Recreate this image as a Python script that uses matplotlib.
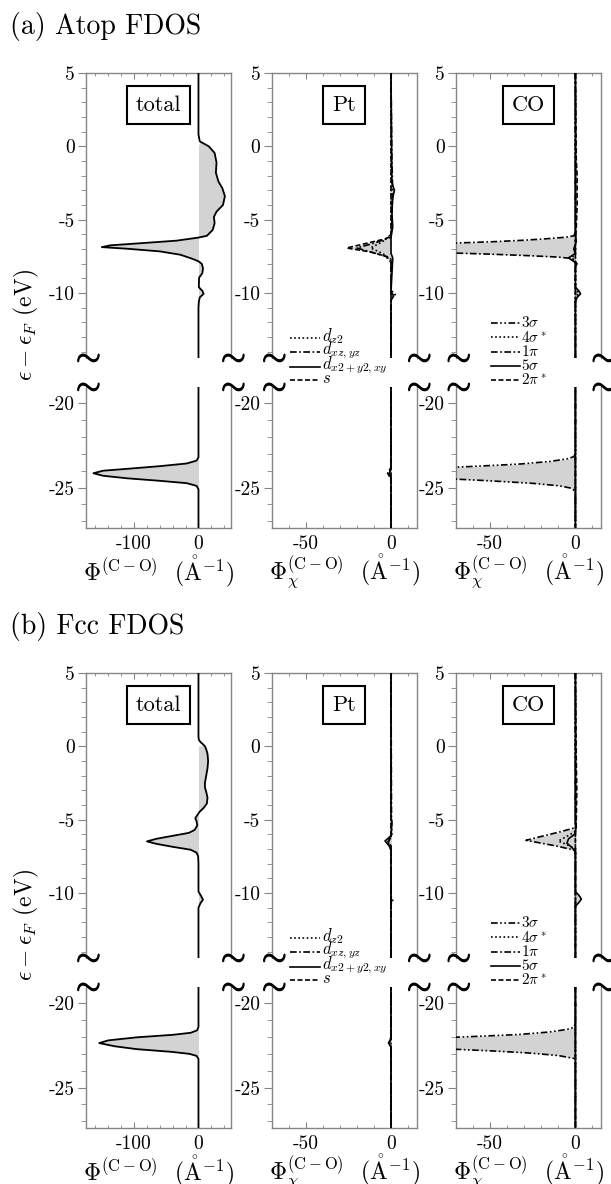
import numpy as np
import matplotlib
matplotlib.use("Agg")
import matplotlib.pyplot as plt
import matplotlib.patheffects as pe
from matplotlib.lines import Line2D
from matplotlib.ticker import MultipleLocator

plt.rcParams["font.family"] = ["cmr10", "DejaVu Serif"]
plt.rcParams["mathtext.fontset"] = "cm"
plt.rcParams["axes.unicode_minus"] = False

# ---------------- data: energy (eV) vs FDOS (1/Angstrom) ----------------
# (a) atop, total
atop_total_E = [5, 0.8, 0.34, 0.0, -0.45, -1.1, -1.8, -2.4, -2.85, -3.4, -4.0, -4.45, -4.8,
                -5.25, -5.7, -6.1, -6.22, -6.43, -6.59, -6.75, -6.87, -6.98, -7.16, -7.39,
                -7.69, -7.84, -8.0, -8.3, -8.65, -8.95, -9.6, -9.85, -10.05, -10.3, -10.6,
                -11.0, -23.2, -23.4, -23.57, -23.73, -23.89, -24.0, -24.15, -24.3, -24.45,
                -24.6, -24.74, -24.9, -25.1, -27.4]
atop_total = [0, 0, 2, 16, 25, 28, 27, 31, 37, 41, 38, 28, 24,
              25, 22, 13, 0, -34, -85, -137, -150, -111, -60, -28,
              -8, 0, 5, 7, 6, 1, 0.5, 6, 8, 2, 0.5,
              0, 0, -3, -18, -60, -111, -148, -163, -148, -111,
              -60, -18, -3, 0, 0]

# (a) atop, Pt projections
atop_dz2_E = [5, -6.0, -6.5, -6.93, -7.3, -7.7, -9.8, -10.1, -10.4, -23.8, -24.1, -24.4, -27.4]
atop_dz2 = [0, 0, -5, -12, -5, 0, 0, 2.5, 0, 0, -1, 0, 0]
atop_dxz_E = [5, -1.0, -3.0, -5.0, -6.2, -6.6, -6.93, -7.2, -7.5, -7.9, -27.4]
atop_dxz = [0, 0.5, 1, 0.5, 0, -10, -20, -12, -3, 0, 0]
atop_dx2_E = [5, -2.5, -3.0, -3.5, -4.5, -5.5, -6.2, -7.3, -7.6, -9.9, -10.2, -10.5,
              -23.9, -24.15, -24.4, -27.4]
atop_dx2 = [0, 0.5, 2, 1, 0.5, 1, 0, 0, 1, 0, 1.5, 0, 0, -1, 0, 0]
atop_s_E = [5, -6.1, -6.3, -6.6, -6.93, -7.2, -7.5, -7.8, -23.8, -24.15, -24.5, -27.4]
atop_s = [0, 0, -3, -14, -26, -12, -3, 0, 0, -2, 0, 0]

# (a) atop, CO orbitals
atop_3s_E = [5, -23.0, -23.17, -23.3, -23.45, -23.6, -23.72, -23.8, -23.95, -24.15, -24.35,
             -24.49, -24.6, -24.75, -24.9, -25.05, -25.25, -27.4]
atop_3s = [0, 0, -1, -5, -15, -32, -55, -72, -150, -300, -150, -72, -50, -25, -9, -2, 0, 0]
atop_4s_E = [5, -7.3, -7.6, -7.9, -9.7, -10.0, -10.3, -27.4]
atop_4s = [0, 0, -2, 0, 0, 2, 0, 0]
atop_1p_E = [5, -5.9, -6.1, -6.2, -6.3, -6.4, -6.5, -6.6, -6.75, -6.93, -7.1, -7.27, -7.35,
             -7.45, -7.55, -7.65, -7.8, -27.4]
atop_1p = [0, 0, -1, -6, -17, -30, -48, -72, -150, -300, -150, -72, -50, -28, -10, -2, 0, 0]
atop_5s_E = [5, -6.0, -6.5, -7.0, -7.3, -7.6, -7.85, -8.0, -8.2, -9.6, -9.85, -10.05, -10.3,
             -10.6, -27.4]
atop_5s = [0, 0, 0.5, -1, 0, -4, -1, 1, 0, 0, 2, 3, 1, 0, 0]
atop_2ps_E = [5, -1.0, -2.0, -4.0, -5.5, -6.5, -27.4]
atop_2ps = [0, 0.5, 1, 1, 0.5, 0, 0]

# (b) fcc, total
fcc_total_E = [5, 0.7, 0.45, 0.3, 0.1, 0.0, -0.2, -0.5, -1.0, -1.5, -2.0, -2.5, -2.8, -3.1,
               -3.5, -3.9, -4.2, -4.45, -4.7, -4.9, -5.1, -5.4, -5.7, -5.9, -6.1, -6.3,
               -6.48, -6.65, -6.85, -7.05, -7.25, -7.5, -8.0, -9.9, -10.2, -10.45, -10.7,
               -11.0, -21.4, -21.6, -21.75, -21.87, -22.02, -22.2, -22.36, -22.55, -22.72,
               -22.88, -23.0, -23.12, -23.3, -27.4]
fcc_total = [0, 0, 0.5, 3, 8, 10, 12, 14, 15, 14, 12, 10, 10, 12,
             14, 13, 8, 2, -2, -5, -3, -2, -6, -15, -40, -65,
             -80, -65, -40, -12, -3, -0.5, 0, 0, 4, 7, 3,
             0, 0, -2, -12, -40, -96, -140, -154, -130, -96,
             -42, -14, -3, 0, 0]

# (b) fcc, Pt projections
fcc_dz2_E = [5, -6.2, -6.5, -6.8, -10.2, -10.5, -10.8, -22.0, -22.3, -22.6, -27.4]
fcc_dz2 = [0, 0, -2, 0, 0, 1, 0, 0, -1, 0, 0]
fcc_dxz_E = [5, -5.0, -6.0, -6.4, -6.7, -7.0, -27.4]
fcc_dxz = [0, 0.3, 0.5, -2, -1, 0, 0]
fcc_dx2_E = [5, -4.8, -5.2, -6.1, -6.45, -6.8, -7.1, -22.1, -22.35, -22.6, -27.4]
fcc_dx2 = [0, 0, 0.5, 0, -3.5, -1, 0, 0, -1.5, 0, 0]
fcc_s_E = [5, -6.2, -6.5, -6.8, -22.1, -22.35, -22.6, -27.4]
fcc_s = [0, 0, -1.5, 0, 0, -1, 0, 0]

# (b) fcc, CO orbitals
fcc_3s_E = [5, -21.2, -21.43, -21.55, -21.7, -21.85, -21.95, -22.02, -22.15, -22.37, -22.55,
            -22.72, -22.82, -22.95, -23.1, -23.27, -23.45, -27.4]
fcc_3s = [0, 0, -1, -5, -15, -33, -55, -72, -150, -300, -150, -72, -50, -27, -10, -1, 0, 0]
fcc_4s_E = [5, -5.8, -6.2, -6.45, -6.7, -7.0, -27.4]
fcc_4s = [0, 0, -6, -10, -5, 0, 0]
fcc_1p_E = [5, -5.45, -5.57, -5.8, -6.0, -6.2, -6.41, -6.6, -6.8, -7.05, -7.15, -27.4]
fcc_1p = [0, 0, -1, -8, -15, -22, -29, -20, -11, -1.5, 0, 0]
fcc_5s_E = [5, -5.0, -5.5, -6.0, -6.3, -6.6, -6.9, -7.2, -9.9, -10.15, -10.4, -10.65, -10.9, -27.4]
fcc_5s = [0, 0, 0.5, -0.5, -4, -5, -2, 0, 0, 2, 3.5, 2, 0, 0]
fcc_2ps_E = [5, -1.0, -3.0, -5.0, -6.0, -27.4]
fcc_2ps = [0, 0.5, 0.8, 0.5, 0, 0]

pt_labels = [r"$d_{z2}$", r"$d_{xz,yz}$", r"$d_{x2+y2,xy}$", r"$s$"]
co_labels = [r"$3\sigma$", r"$4\sigma^*$", r"$1\pi$", r"$5\sigma$", r"$2\pi^*$"]
panel_names = ["total", "Pt", "CO"]

# line styles
DOT = (0, (1, 1.5))
DASHDOT = (0, (4, 1.5, 1, 1.5))
DASHDOTDOT = (0, (4, 1.5, 1, 1.5, 1, 1.5))
DASH = (0, (3, 1.5))
pt_styles = [DOT, DASHDOT, "-", DASH]
co_styles = [DASHDOTDOT, DOT, DASHDOT, "-", DASH]

# ---------------- layout (pixels) ----------------
W, H = 611, 1184
fig = plt.figure(figsize=(W / 100, H / 100), dpi=100)


def fx(px):
    return px / W


def fy(px):
    return 1 - px / H


panel_left = [85.7, 271.6, 456.0]
panel_w = 145.0
xlims = [(-175, 50), (-70, 15), (-70, 15)]
xmajor = [100, 50, 50]
xminor = [20, 10, 10]
GRAY = "#858585"
FILL = "#d3d3d3"
UP_LIM = (-14.45, 5)
LOW_LIM = (-27.4, -19.05)

xlabels = [r"$\Phi^{(\mathrm{C-O})}$  ($\mathring{\mathrm{A}}^{-1}$)",
           r"$\Phi_{\chi}^{(\mathrm{C-O})}$  ($\mathring{\mathrm{A}}^{-1}$)",
           r"$\Phi_{\chi}^{(\mathrm{C-O})}$  ($\mathring{\mathrm{A}}^{-1}$)"]


def style_axes(ax, i, part):
    ax.set_xlim(*xlims[i])
    ax.xaxis.set_major_locator(MultipleLocator(xmajor[i]))
    ax.xaxis.set_minor_locator(MultipleLocator(xminor[i]))
    ax.yaxis.set_major_locator(MultipleLocator(5))
    ax.yaxis.set_minor_locator(MultipleLocator(1))
    for sp in ax.spines.values():
        sp.set_color(GRAY)
        sp.set_linewidth(1.0)
    ax.tick_params(axis="y", which="both", direction="out", left=True, right=False,
                   color=GRAY, labelsize=14, pad=2)
    ax.tick_params(axis="y", which="major", length=6)
    ax.tick_params(axis="y", which="minor", length=3.5)
    ax.tick_params(axis="x", which="major", length=4.5)
    ax.tick_params(axis="x", which="minor", length=2.5)
    if part == "up":
        ax.set_ylim(*UP_LIM)
        ax.spines["bottom"].set_visible(False)
        ax.tick_params(axis="x", which="both", direction="in", top=True, bottom=False,
                       labelbottom=False, color=GRAY)
        ends = [(0, 0), (1, 0)]
    else:
        ax.set_ylim(*LOW_LIM)
        ax.spines["top"].set_visible(False)
        ax.tick_params(axis="x", which="both", direction="in", top=False, bottom=True,
                       color=GRAY, labelsize=14, pad=5)
        ends = [(0, 1), (1, 1)]
    # break marks at the ends of the cut spines
    for ex, ey in ends:
        ax.text(ex, ey, r"$\sim$", transform=ax.transAxes, ha="center", va="center",
                fontsize=23, color="black", clip_on=False, zorder=5,
                path_effects=[pe.withStroke(linewidth=0.9, foreground="black")])


def draw_curve(axs, E, V, ls, lw=1.2):
    E = np.asarray(E, dtype=float)
    V = np.asarray(V, dtype=float)
    for ax in axs:
        ax.fill_betweenx(E, V, 0, where=E <= 0, interpolate=True, color=FILL, lw=0, zorder=1)
        ax.plot(V, E, color="black", ls=ls, lw=lw, zorder=3)


blocks = [
    dict(off=0, title="(a) Atop FDOS",
         total=(atop_total_E, atop_total),
         pt=[(atop_dz2_E, atop_dz2), (atop_dxz_E, atop_dxz), (atop_dx2_E, atop_dx2), (atop_s_E, atop_s)],
         co=[(atop_3s_E, atop_3s), (atop_4s_E, atop_4s), (atop_1p_E, atop_1p),
             (atop_5s_E, atop_5s), (atop_2ps_E, atop_2ps)]),
    dict(off=600, title="(b) Fcc FDOS",
         total=(fcc_total_E, fcc_total),
         pt=[(fcc_dz2_E, fcc_dz2), (fcc_dxz_E, fcc_dxz), (fcc_dx2_E, fcc_dx2), (fcc_s_E, fcc_s)],
         co=[(fcc_3s_E, fcc_3s), (fcc_4s_E, fcc_4s), (fcc_1p_E, fcc_1p),
             (fcc_5s_E, fcc_5s), (fcc_2ps_E, fcc_2ps)]),
]

for b in blocks:
    o = b["off"]
    top, brk1, brk2, bottom = 73 + o, 358.3 + o, 387.3 + o, 528 + o
    fig.text(fx(10), fy(12 + o), b["title"], fontsize=20, ha="left", va="top")
    fig.text(fx(26), fy(325 + o), r"$\epsilon-\epsilon_F$ (eV)", rotation=90,
             ha="center", va="center", fontsize=17)
    for i in range(3):
        left = panel_left[i]
        ax_up = fig.add_axes([fx(left), fy(brk1), fx(panel_w), (brk1 - top) / H])
        ax_lo = fig.add_axes([fx(left), fy(bottom), fx(panel_w), (bottom - brk2) / H])
        style_axes(ax_up, i, "up")
        style_axes(ax_lo, i, "low")
        if i == 0:
            draw_curve([ax_up, ax_lo], *b["total"], "-", lw=1.3)
        elif i == 1:
            for (E, V), ls in zip(b["pt"], pt_styles):
                draw_curve([ax_up, ax_lo], E, V, ls)
        else:
            for (E, V), ls in zip(b["co"], co_styles):
                draw_curve([ax_up, ax_lo], E, V, ls)
        ax_up.text(0.5, 0.888, panel_names[i], transform=ax_up.transAxes, ha="center",
                   va="center", fontsize=16,
                   bbox=dict(boxstyle="square,pad=0.4", fc="white", ec="black", lw=1.5))
        fig.text(fx(left + panel_w / 2), fy(571 + o), xlabels[i], ha="center", va="center",
                 fontsize=17)

    # Pt legend
    for k, (lab, ls) in enumerate(zip(pt_labels, pt_styles)):
        y = [338, 352, 367, 380][k] + o
        fig.add_artist(Line2D([fx(290), fx(320)], [fy(y), fy(y)], transform=fig.transFigure,
                              color="black", ls=ls, lw=1.2))
        fig.text(fx(322), fy(y - 2), lab, ha="left", va="center", fontsize=12)
    # CO legend
    for k, (lab, ls) in enumerate(zip(co_labels, co_styles)):
        y = [322.7, 337, 351.7, 366, 380][k] + o
        fig.add_artist(Line2D([fx(491), fx(520)], [fy(y), fy(y)], transform=fig.transFigure,
                              color="black", ls=ls, lw=1.2))
        fig.text(fx(521), fy(y), lab, ha="left", va="center", fontsize=11)

fig.savefig("out.png", dpi=100, facecolor="white")
